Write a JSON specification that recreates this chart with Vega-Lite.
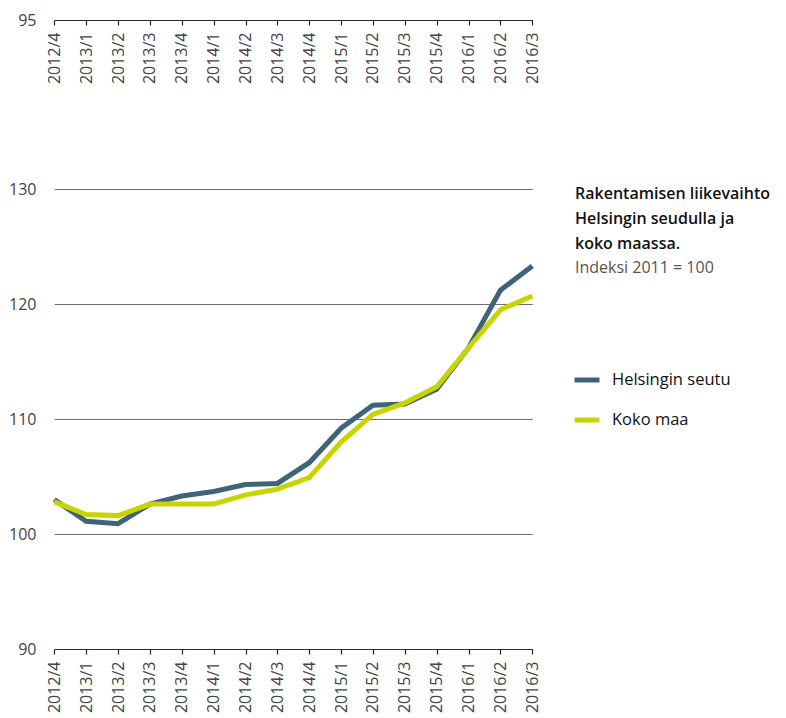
{
  "$schema": "https://vega.github.io/schema/vega-lite/v6.json",
  "width": 492,
  "height": 629,
  "autosize": {"type": "none"},
  "padding": {"left": 45, "top": 20, "right": 249, "bottom": 69},
  "background": "white",
  "config": {"font": "Open Sans", "view": {"stroke": null}},
  "title": {
    "text": ["Rakentamisen liikevaihto", "Helsingin seudulla ja", "koko maassa."],
    "subtitle": "Indeksi 2011 = 100",
    "anchor": "start",
    "frame": "group",
    "orient": "top",
    "dx": 530,
    "dy": 268,
    "fontSize": 16,
    "fontWeight": 600,
    "color": "#111",
    "lineHeight": 25,
    "subtitleFontSize": 16,
    "subtitleColor": "#555",
    "subtitlePadding": 8
  },
  "data": {
    "values": [
      {"q": "2012/4", "s": "Helsingin seutu", "v": 103.0},
      {"q": "2013/1", "s": "Helsingin seutu", "v": 101.1},
      {"q": "2013/2", "s": "Helsingin seutu", "v": 100.9},
      {"q": "2013/3", "s": "Helsingin seutu", "v": 102.6},
      {"q": "2013/4", "s": "Helsingin seutu", "v": 103.3},
      {"q": "2014/1", "s": "Helsingin seutu", "v": 103.7},
      {"q": "2014/2", "s": "Helsingin seutu", "v": 104.3},
      {"q": "2014/3", "s": "Helsingin seutu", "v": 104.4},
      {"q": "2014/4", "s": "Helsingin seutu", "v": 106.2},
      {"q": "2015/1", "s": "Helsingin seutu", "v": 109.2},
      {"q": "2015/2", "s": "Helsingin seutu", "v": 111.2},
      {"q": "2015/3", "s": "Helsingin seutu", "v": 111.3},
      {"q": "2015/4", "s": "Helsingin seutu", "v": 112.6},
      {"q": "2016/1", "s": "Helsingin seutu", "v": 116.2},
      {"q": "2016/2", "s": "Helsingin seutu", "v": 121.2},
      {"q": "2016/3", "s": "Helsingin seutu", "v": 123.3},
      {"q": "2012/4", "s": "Koko maa", "v": 102.8},
      {"q": "2013/1", "s": "Koko maa", "v": 101.7},
      {"q": "2013/2", "s": "Koko maa", "v": 101.6},
      {"q": "2013/3", "s": "Koko maa", "v": 102.6},
      {"q": "2013/4", "s": "Koko maa", "v": 102.6},
      {"q": "2014/1", "s": "Koko maa", "v": 102.6},
      {"q": "2014/2", "s": "Koko maa", "v": 103.4},
      {"q": "2014/3", "s": "Koko maa", "v": 103.9},
      {"q": "2014/4", "s": "Koko maa", "v": 104.9},
      {"q": "2015/1", "s": "Koko maa", "v": 108.0},
      {"q": "2015/2", "s": "Koko maa", "v": 110.4},
      {"q": "2015/3", "s": "Koko maa", "v": 111.4},
      {"q": "2015/4", "s": "Koko maa", "v": 112.8},
      {"q": "2016/1", "s": "Koko maa", "v": 116.2},
      {"q": "2016/2", "s": "Koko maa", "v": 119.5},
      {"q": "2016/3", "s": "Koko maa", "v": 120.7}
    ]
  },
  "encoding": {
    "y": {
      "field": "v", "type": "quantitative",
      "scale": {"domain": [90, 144.7], "nice": false, "zero": false},
      "axis": {
        "title": null, "values": [90, 100, 110, 120, 130, 144.7],
        "labelExpr": "datum.value > 140 ? '95' : datum.label",
        "domain": false, "ticks": false, "grid": true,
        "gridColor": {"condition": {"test": "datum.value == 90 || datum.value > 140", "value": "#2a2a2a"}, "value": "#6e6e6e"},
        "gridWidth": 1.2,
        "labelFontSize": 16, "labelColor": "#444", "labelPadding": 9
      }
    }
  },
  "layer": [
    {
      "mark": {"type": "line", "strokeWidth": 5, "strokeJoin": "miter"},
      "encoding": {
        "x": {
          "field": "q", "type": "ordinal", "sort": null,
          "scale": {"type": "point", "range": [9.3, 487.3], "padding": 0},
          "axis": {
            "title": null, "orient": "bottom", "domain": false, "grid": false,
            "ticks": true, "tickSize": 5, "tickColor": "#222", "tickWidth": 1.2,
            "labelAngle": -90, "labelFontSize": 16, "labelColor": "#444", "labelPadding": 7
          }
        },
        "color": {
          "field": "s", "type": "nominal",
          "scale": {"domain": ["Helsingin seutu", "Koko maa"], "range": ["#3e6479", "#c8d400"]},
          "legend": {
            "orient": "none", "legendX": 527, "legendY": 345, "title": null,
            "symbolType": "stroke", "symbolSize": 625, "symbolStrokeWidth": 5,
            "labelFontSize": 16.5, "labelColor": "#111", "labelOffset": 10, "rowPadding": 15
          }
        }
      }
    },
    {
      "mark": {"type": "line", "opacity": 0},
      "encoding": {
        "x": {
          "field": "q", "type": "ordinal", "sort": null,
          "axis": {
            "title": null, "orient": "bottom", "offset": -629, "domain": false, "grid": false,
            "ticks": true, "tickSize": 5, "tickColor": "#222", "tickWidth": 1.2,
            "labelAngle": -90, "labelFontSize": 16, "labelColor": "#444", "labelPadding": 7
          }
        },
        "detail": {"field": "s"}
      }
    }
  ],
  "resolve": {"axis": {"x": "independent"}}
}
